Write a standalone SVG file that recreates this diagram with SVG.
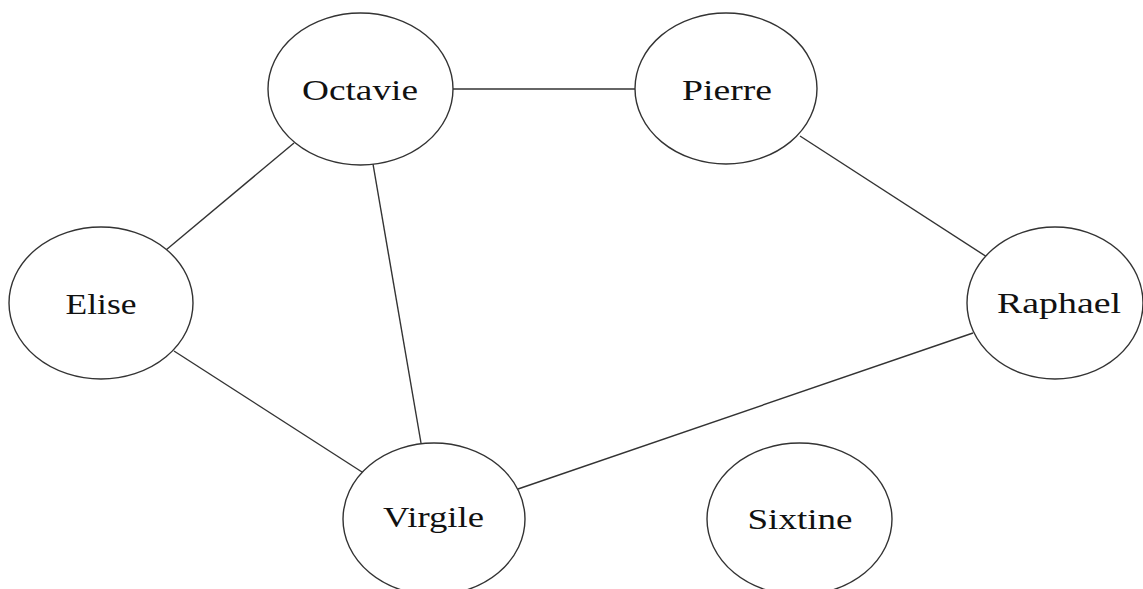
<svg xmlns="http://www.w3.org/2000/svg" width="1143" height="589" viewBox="0 0 1143 589">
<style>
.n ellipse{fill:#fff;stroke:#333;stroke-width:1.4}
.n text{font-family:"Liberation Serif","DejaVu Serif",serif;font-size:29px;fill:#111;text-anchor:middle}
#edges line{stroke:#333;stroke-width:1.4}
</style>
<rect width="1143" height="589" fill="#fff"/>
<g id="edges">
<line x1="453" y1="89" x2="635" y2="89"/>
<line x1="294" y1="143" x2="166" y2="250"/>
<line x1="373" y1="164" x2="421" y2="443"/>
<line x1="800" y1="136" x2="987" y2="257"/>
<line x1="174" y1="351" x2="362" y2="472"/>
<line x1="973" y1="333" x2="518" y2="489"/>
</g>
<g id="octavie" class="n"><ellipse cx="360.5" cy="89" rx="92.5" ry="76"/><text x="360" y="100" textLength="116" lengthAdjust="spacingAndGlyphs">Octavie</text></g>
<g id="pierre" class="n"><ellipse cx="726" cy="88.5" rx="91" ry="75.5"/><text x="727" y="100" textLength="90" lengthAdjust="spacingAndGlyphs">Pierre</text></g>
<g id="elise" class="n"><ellipse cx="101" cy="303" rx="92" ry="76"/><text x="101" y="314" textLength="71" lengthAdjust="spacingAndGlyphs">Elise</text></g>
<g id="raphael" class="n"><ellipse cx="1055" cy="303" rx="88" ry="76"/><text x="1059" y="313" textLength="124" lengthAdjust="spacingAndGlyphs">Raphael</text></g>
<g id="virgile" class="n"><ellipse cx="434" cy="519" rx="91" ry="76"/><text x="433.5" y="527" textLength="101" lengthAdjust="spacingAndGlyphs">Virgile</text></g>
<g id="sixtine" class="n"><ellipse cx="799.5" cy="519" rx="92.5" ry="76"/><text x="800" y="529" textLength="105" lengthAdjust="spacingAndGlyphs">Sixtine</text></g>
</svg>
